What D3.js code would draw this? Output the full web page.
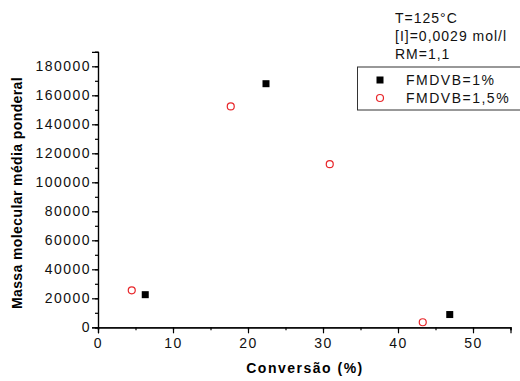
<!DOCTYPE html>
<html><head><meta charset="utf-8">
<script src="https://cdn.jsdelivr.net/npm/d3@7"></script>
<style>
body{margin:0;background:#fff;}
text{font-family:"Liberation Sans",Arial,sans-serif;}
</style></head>
<body><svg id="c" width="520" height="381"></svg>
<script>
const seriesNames = ["FMDVB=1%", "FMDVB=1,5%"];
const s1x = [6.3, 22.4, 46.9];
const s1y = [22500, 168000, 8800];
const s2x = [4.5, 17.7, 30.9, 43.3];
const s2y = [25500, 152300, 112500, 3500];
const xTicks = [0, 10, 20, 30, 40, 50];
const yTicks = [0, 20000, 40000, 60000, 80000, 100000, 120000, 140000, 160000, 180000];
const annotation = ["T=125°C", "[I]=0,0029 mol/l", "RM=1,1"];
const xTitle = "Conversão (%)";
const yTitle = "Massa molecular média ponderal";

const svg = d3.select("#c");
const x = d3.scaleLinear().domain([0, 55]).range([98, 510.5]);
const y = d3.scaleLinear().domain([0, 190000]).range([327.3, 51.8]);

const ls = "1.5px";
// minor ticks
const gx = svg.append("g").attr("transform", `translate(0,${y(0)})`);
gx.call(d3.axisBottom(x).tickValues(d3.range(0, 56, 5)).tickSize(3).tickFormat(""));
const gx2 = svg.append("g").attr("transform", `translate(0,${y(0)})`);
gx2.call(d3.axisBottom(x).tickValues(xTicks).tickSize(6).tickPadding(4).tickFormat(d3.format("d")));
const gy = svg.append("g").attr("transform", `translate(${x(0)},0)`);
gy.call(d3.axisLeft(y).tickValues(d3.range(0, 190001, 10000)).tickSize(3).tickFormat(""));
const gy2 = svg.append("g").attr("transform", `translate(${x(0)},0)`);
gy2.call(d3.axisLeft(y).tickValues(yTicks).tickSize(6).tickPadding(3).tickFormat(d3.format("d")));
[gx, gx2, gy, gy2].forEach(g => {
  g.selectAll("path").attr("stroke", "#000").attr("stroke-width", 1.2);
  g.selectAll("line").attr("stroke", "#000").attr("stroke-width", 1.2);
  g.selectAll("text").attr("font-size", "14px").attr("fill", "#111").style("letter-spacing", ls)
    .attr("font-family", "Liberation Sans, Arial, sans-serif");
});
gx2.selectAll("text").attr("dy", "0.75em");
gy2.selectAll("text").attr("dx", "0.15em");

// titles
svg.append("text").attr("x", 305).attr("y", 373).attr("text-anchor", "middle")
  .attr("font-size", "14px").attr("font-weight", "bold").style("letter-spacing", ls).text(xTitle);
svg.append("text").attr("transform", "translate(22,193) rotate(-90)").attr("text-anchor", "middle")
  .attr("font-size", "14px").attr("font-weight", "bold").style("letter-spacing", "0.4px").text(yTitle);

// data
svg.append("g").selectAll("rect").data(s1x.map((d, i) => [d, s1y[i]])).join("rect")
  .attr("x", d => x(d[0]) - 3.5).attr("y", d => y(d[1]) - 3.5).attr("width", 7).attr("height", 7).attr("fill", "#000");
svg.append("g").selectAll("circle").data(s2x.map((d, i) => [d, s2y[i]])).join("circle")
  .attr("cx", d => x(d[0])).attr("cy", d => y(d[1])).attr("r", 3.5).attr("fill", "none").attr("stroke", "#e8262a").attr("stroke-width", 1.2);

// annotation
svg.append("g").selectAll("text").data(annotation).join("text")
  .attr("x", 395).attr("y", (d, i) => 23 + i * 18).attr("font-size", "14px").style("letter-spacing", "1px").attr("fill", "#111").text(d => d);

// legend
svg.append("rect").attr("x", 357.5).attr("y", 67).attr("width", 170).attr("height", 43).attr("fill", "none").attr("stroke", "#333").attr("stroke-width", 1);
svg.append("rect").attr("x", 376.5).attr("y", 76.5).attr("width", 7).attr("height", 7).attr("fill", "#000");
svg.append("circle").attr("cx", 380).attr("cy", 98).attr("r", 3.5).attr("fill", "none").attr("stroke", "#e8262a").attr("stroke-width", 1.2);
svg.append("g").selectAll("text").data(seriesNames).join("text")
  .attr("x", 406).attr("y", (d, i) => 85 + i * 18).attr("font-size", "14px").style("letter-spacing", ls).attr("fill", "#111").text(d => d);
</script></body></html>
